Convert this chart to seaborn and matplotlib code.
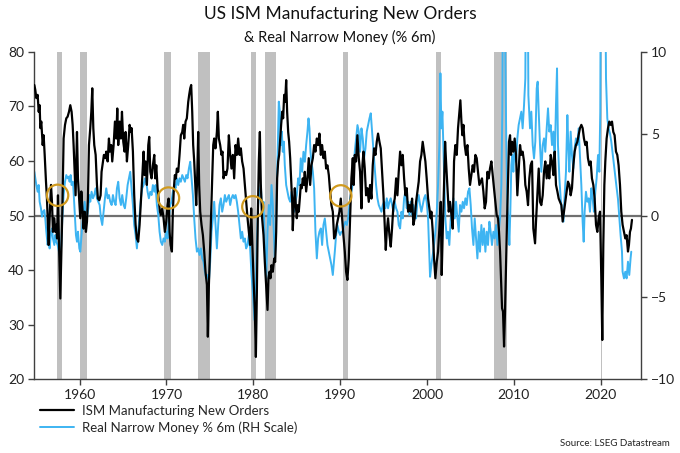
import numpy as np
import pandas as pd
import matplotlib
matplotlib.use("Agg")
import matplotlib.pyplot as plt
from matplotlib.lines import Line2D
import seaborn as sns

# ---------------- data ----------------
ism_year = [
    1954.79, 1954.90, 1955.02, 1955.17, 1955.29, 1955.40, 1955.48, 1955.59, 1955.75, 1955.86,
    1955.98, 1956.13, 1956.24, 1956.44, 1956.55, 1956.71, 1956.82, 1956.93, 1957.09, 1957.20,
    1957.32, 1957.40, 1957.51, 1957.63, 1957.78, 1957.89, 1958.01, 1958.16, 1958.32, 1958.47,
    1958.62, 1958.78, 1958.93, 1959.08, 1959.20, 1959.31, 1959.43, 1959.54, 1959.70, 1959.81,
    1959.93, 1960.08, 1960.20, 1960.35, 1960.46, 1960.58, 1960.73, 1960.85, 1960.96, 1961.08,
    1961.23, 1961.35, 1961.46, 1961.58, 1961.69, 1961.85, 1962.00, 1962.11, 1962.27, 1962.42,
    1962.53, 1962.69, 1962.80, 1962.96, 1963.07, 1963.23, 1963.38, 1963.49, 1963.65, 1963.76,
    1963.92, 1964.07, 1964.22, 1964.34, 1964.45, 1964.61, 1964.76, 1964.88, 1965.03, 1965.18,
    1965.30, 1965.45, 1965.60, 1965.76, 1965.91,
    1965.99, 1966.14, 1966.29, 1966.45, 1966.60, 1966.75, 1966.91, 1967.06, 1967.21, 1967.37,
    1967.48, 1967.60, 1967.75, 1967.91, 1968.02, 1968.14, 1968.29, 1968.44, 1968.60, 1968.71,
    1968.83, 1968.98, 1969.13, 1969.25, 1969.36, 1969.52, 1969.67, 1969.82, 1969.98, 1970.13,
    1970.25, 1970.36, 1970.48, 1970.63, 1970.74, 1970.86, 1970.97, 1971.09, 1971.20, 1971.36,
    1971.51, 1971.66, 1971.82, 1971.93, 1972.05, 1972.20, 1972.35, 1972.51, 1972.62, 1972.74,
    1972.85, 1972.97, 1973.08, 1973.20, 1973.31, 1973.43, 1973.54, 1973.66, 1973.77, 1973.89,
    1974.04, 1974.20, 1974.35, 1974.50, 1974.66, 1974.77, 1974.89, 1975.04, 1975.15, 1975.27,
    1975.39, 1975.50, 1975.65, 1975.81, 1975.92, 1976.04, 1976.19, 1976.34, 1976.46, 1976.57,
    1976.73, 1976.88, 1977.03, 1977.19, 1977.34, 1977.49, 1977.65,
    1977.80, 1977.96, 1978.11, 1978.26, 1978.42, 1978.57, 1978.72, 1978.88, 1979.03, 1979.18,
    1979.34, 1979.49, 1979.64, 1979.76, 1979.87, 1980.03, 1980.18, 1980.30, 1980.41, 1980.53,
    1980.64, 1980.76, 1980.87, 1981.02, 1981.18, 1981.33, 1981.48, 1981.64, 1981.75, 1981.87,
    1981.98, 1982.10, 1982.25, 1982.41, 1982.52, 1982.64, 1982.75, 1982.87, 1982.98, 1983.10,
    1983.21, 1983.33, 1983.44, 1983.56, 1983.67, 1983.79, 1983.90, 1984.02, 1984.13, 1984.25,
    1984.36, 1984.48, 1984.55, 1984.67, 1984.78, 1984.90, 1985.01, 1985.13, 1985.24, 1985.36,
    1985.47, 1985.59, 1985.70, 1985.82, 1985.93, 1986.09, 1986.24, 1986.39, 1986.55, 1986.70,
    1986.86, 1987.01, 1987.16, 1987.32, 1987.47, 1987.62, 1987.78, 1987.93, 1988.08, 1988.24,
    1988.39, 1988.54, 1988.70, 1988.85, 1989.00, 1989.16,
    1989.31, 1989.46, 1989.62, 1989.77, 1989.92, 1990.08, 1990.23, 1990.38, 1990.54, 1990.69,
    1990.84, 1991.00, 1991.15, 1991.30, 1991.46, 1991.57, 1991.69, 1991.84, 1991.99, 1992.15,
    1992.30, 1992.46, 1992.57, 1992.69, 1992.84, 1992.99, 1993.15, 1993.30, 1993.45, 1993.61,
    1993.76, 1993.91, 1994.07, 1994.22, 1994.37, 1994.53, 1994.68, 1994.83, 1994.99, 1995.14,
    1995.26, 1995.37, 1995.52, 1995.68, 1995.83, 1995.98, 1996.14, 1996.29, 1996.45, 1996.60,
    1996.75, 1996.91, 1997.06, 1997.21, 1997.37, 1997.52, 1997.67, 1997.83, 1997.98, 1998.13,
    1998.29, 1998.44, 1998.59, 1998.75, 1998.90, 1999.05, 1999.21, 1999.36, 1999.51, 1999.67,
    1999.82, 1999.97, 2000.13, 2000.28, 2000.43,
    2000.51, 2000.67, 2000.82, 2000.97, 2001.13, 2001.28, 2001.43, 2001.59, 2001.70, 2001.82,
    2001.97, 2002.09, 2002.20, 2002.35, 2002.51, 2002.66, 2002.82, 2002.97, 2003.12, 2003.27,
    2003.43, 2003.58, 2003.74, 2003.85, 2003.97, 2004.08, 2004.20, 2004.35, 2004.50, 2004.66,
    2004.81, 2004.96, 2005.12, 2005.27, 2005.42, 2005.58, 2005.73, 2005.88, 2006.04, 2006.19,
    2006.34, 2006.50, 2006.65, 2006.80, 2006.96, 2007.11, 2007.26, 2007.42, 2007.57, 2007.72,
    2007.88, 2008.03, 2008.19, 2008.30, 2008.42, 2008.53, 2008.65, 2008.76, 2008.88, 2008.99,
    2009.11, 2009.22, 2009.34, 2009.45, 2009.57, 2009.68, 2009.80, 2009.95, 2010.10, 2010.26,
    2010.41, 2010.56, 2010.72, 2010.87, 2011.02, 2011.18, 2011.33, 2011.48, 2011.64, 2011.79,
    2011.94, 2012.10, 2012.25,
    2012.45, 2012.56, 2012.71, 2012.87, 2013.02, 2013.17, 2013.33, 2013.48, 2013.63, 2013.79,
    2013.94, 2014.09, 2014.25, 2014.40, 2014.56, 2014.71, 2014.86, 2015.02, 2015.17, 2015.32,
    2015.48, 2015.63, 2015.78, 2015.94, 2016.09, 2016.24, 2016.40, 2016.55, 2016.70, 2016.86,
    2017.01, 2017.16, 2017.32, 2017.47, 2017.62, 2017.78, 2017.93, 2018.08, 2018.24, 2018.39,
    2018.54, 2018.70, 2018.85, 2019.00, 2019.16, 2019.31, 2019.47, 2019.62, 2019.77, 2019.93,
    2020.08, 2020.19, 2020.31, 2020.43, 2020.54, 2020.69, 2020.85, 2021.00, 2021.15, 2021.31,
    2021.46, 2021.61, 2021.77, 2021.92, 2022.07, 2022.23, 2022.38, 2022.53, 2022.69, 2022.84,
    2022.99, 2023.15, 2023.26, 2023.38, 2023.49, 2023.61,
]
ism_value = [
    73.9, 73.0, 71.5, 72.1, 69.0, 70.2, 66.0, 67.2, 62.9, 64.7,
    61.1, 56.2, 53.1, 44.6, 49.5, 55.6, 52.5, 47.0, 49.5, 47.0,
    48.3, 45.8, 53.7, 44.6, 34.8, 42.1, 50.7, 64.1, 66.6, 67.8,
    68.1, 69.0, 70.2, 69.0, 66.6, 62.9, 58.0, 53.7, 65.3, 56.8,
    53.7, 49.5, 54.4, 50.7, 47.6, 50.7, 47.0, 48.9, 53.1, 62.9,
    66.0, 69.0, 73.3, 66.0, 62.9, 61.1, 55.6, 53.1, 52.8, 53.7,
    58.0, 59.9, 61.1, 60.5, 61.7, 59.9, 64.1, 61.7, 62.9, 59.9,
    62.9, 67.2, 64.1, 69.6, 62.9, 67.2, 64.1, 69.0, 63.5, 61.7,
    65.3, 59.9, 62.9, 66.6, 65.3,
    66.0, 61.7, 53.7, 48.3, 45.8, 45.2, 48.3, 52.5, 56.8, 61.7,
    57.4, 59.9, 55.6, 62.9, 64.4, 58.0, 56.8, 59.2, 61.1, 56.8,
    59.2, 55.0, 52.5, 50.7, 50.1, 51.3, 49.5, 47.0, 48.9, 51.9,
    53.1, 47.0, 44.6, 43.4, 50.7, 55.0, 57.4, 56.8, 58.6, 58.0,
    61.1, 64.7, 65.3, 66.6, 64.1, 67.2, 67.8, 70.8, 72.1, 73.3,
    73.9, 69.0, 62.9, 59.9, 56.2, 51.9, 56.8, 65.3, 55.6, 50.7,
    48.3, 46.4, 43.4, 39.7, 37.3, 27.8, 37.3, 44.6, 50.7, 56.8,
    62.9, 64.1, 62.3, 65.3, 69.0, 64.1, 62.9, 61.1, 61.7, 56.8,
    58.0, 57.4, 58.6, 64.7, 61.1, 58.6, 61.1,
    56.8, 62.9, 61.1, 64.1, 61.1, 62.3, 59.9, 58.6, 55.6, 52.5,
    49.5, 47.0, 44.6, 51.3, 45.8, 38.5, 32.4, 24.1, 35.4, 50.7,
    59.9, 65.3, 55.6, 49.5, 46.4, 41.5, 37.3, 32.7, 38.5, 39.7,
    38.5, 40.9, 39.7, 42.1, 41.5, 47.0, 56.8, 59.9, 61.1, 64.1,
    66.6, 69.0, 67.8, 72.1, 70.8, 74.8, 69.0, 65.3, 63.5, 60.5,
    56.8, 52.5, 47.3, 51.9, 55.0, 51.9, 49.5, 51.9, 50.7, 53.1,
    55.6, 55.0, 56.8, 55.6, 58.0, 54.4, 56.8, 60.5, 55.6, 59.2,
    60.5, 62.9, 61.7, 64.1, 62.9, 65.0, 61.1, 62.9, 60.5, 61.7,
    58.6, 59.2, 57.4, 54.4, 51.9, 50.7,
    45.8, 46.4, 48.3, 49.5, 50.7, 53.1, 49.5, 46.4, 43.4, 39.7,
    38.2, 42.1, 49.5, 56.8, 60.5, 55.6, 61.1, 59.9, 64.7, 60.5,
    58.0, 51.3, 59.2, 61.7, 58.6, 53.7, 55.0, 52.5, 55.6, 53.1,
    59.2, 62.3, 61.1, 63.5, 65.0, 63.5, 62.3, 58.0, 53.7, 48.3,
    43.7, 47.0, 49.5, 46.4, 44.3, 47.6, 51.9, 53.1, 56.8, 53.7,
    58.0, 61.7, 59.2, 61.1, 56.8, 53.7, 55.0, 50.7, 51.9, 50.7,
    53.1, 48.3, 49.5, 52.5, 54.4, 56.2, 59.9, 61.1, 63.5, 61.7,
    59.9, 56.8, 53.1, 51.3, 49.5,
    50.7, 47.0, 42.1, 38.5, 41.5, 43.4, 47.6, 52.5, 39.1, 47.0,
    55.6, 63.5, 59.9, 55.6, 50.7, 52.5, 50.1, 47.6, 59.9, 62.9,
    61.1, 66.0, 69.0, 71.1, 67.2, 64.7, 66.6, 62.9, 61.1, 62.9,
    58.6, 55.6, 57.4, 59.2, 58.0, 61.1, 60.5, 58.0, 55.6, 56.2,
    56.8, 54.4, 51.3, 52.5, 58.0, 56.8, 58.6, 59.9, 57.4, 55.0,
    52.5, 50.1, 49.5, 47.0, 43.4, 38.5, 33.0, 32.4, 26.0, 32.4,
    41.5, 48.9, 56.8, 63.5, 64.7, 61.1, 63.5, 61.7, 64.1, 61.1,
    53.7, 58.0, 62.9, 61.1, 61.7, 59.9, 55.6, 54.4, 51.9, 56.8,
    59.2, 59.9, 47.6,
    44.9, 48.9, 53.7, 58.6, 52.5, 51.9, 53.7, 58.0, 59.9, 56.8,
    59.2, 56.8, 61.1, 59.9, 57.4, 61.7, 55.6, 54.4, 53.1, 52.5,
    51.9, 48.9, 50.7, 52.5, 54.4, 56.2, 55.6, 53.7, 55.0, 59.2,
    61.7, 62.9, 63.5, 64.7, 66.0, 66.6, 66.0, 64.1, 62.9, 63.5,
    60.5, 59.2, 59.9, 56.8, 55.6, 53.1, 48.3, 47.0, 49.5, 50.7,
    38.5, 27.2, 44.6, 55.6, 59.9, 64.1, 66.0, 67.2, 66.6, 67.2,
    65.3, 64.7, 61.7, 61.1, 59.2, 55.6, 50.7, 48.3, 47.0, 45.8,
    46.4, 43.4, 44.6, 47.0, 47.6, 49.2,
]

money_year = [
    1954.79, 1954.90, 1955.02, 1955.17, 1955.29, 1955.40, 1955.55, 1955.67, 1955.78, 1955.94,
    1956.05, 1956.17, 1956.32, 1956.44, 1956.55, 1956.71, 1956.82, 1956.93, 1957.09, 1957.20,
    1957.32, 1957.47, 1957.63, 1957.78, 1957.89, 1958.01, 1958.16, 1958.32, 1958.47, 1958.62,
    1958.74, 1958.85, 1958.97, 1959.08, 1959.24, 1959.35, 1959.47, 1959.58, 1959.70, 1959.81,
    1959.97, 1960.08, 1960.20, 1960.31, 1960.46, 1960.58, 1960.73, 1960.85, 1961.00, 1961.12,
    1961.23, 1961.38, 1961.54, 1961.69, 1961.85, 1962.00, 1962.15, 1962.31, 1962.46, 1962.61,
    1962.77, 1962.92, 1963.07, 1963.23, 1963.38, 1963.53, 1963.69, 1963.84, 1963.99, 1964.15,
    1964.30, 1964.45, 1964.61, 1964.76, 1964.91, 1965.07, 1965.22, 1965.37, 1965.53, 1965.68,
    1965.83,
    1965.99, 1966.14, 1966.29, 1966.45, 1966.60, 1966.75, 1966.91, 1967.06, 1967.21, 1967.37,
    1967.52, 1967.68, 1967.83, 1967.98, 1968.14, 1968.29, 1968.44, 1968.60, 1968.75, 1968.90,
    1969.06, 1969.21, 1969.36, 1969.52, 1969.67, 1969.82, 1969.98, 1970.13, 1970.28, 1970.44,
    1970.59, 1970.74, 1970.90, 1971.05, 1971.20, 1971.36, 1971.51, 1971.66, 1971.82, 1971.97,
    1972.13, 1972.28, 1972.43, 1972.59, 1972.74, 1972.89, 1973.05, 1973.20, 1973.35, 1973.51,
    1973.66, 1973.81, 1973.97, 1974.12, 1974.27, 1974.43, 1974.58, 1974.73, 1974.89, 1975.04,
    1975.19, 1975.35, 1975.50, 1975.65, 1975.81, 1975.96, 1976.11, 1976.27, 1976.42, 1976.57,
    1976.73, 1976.88, 1977.03, 1977.19, 1977.34, 1977.49, 1977.65,
    1977.80, 1977.96, 1978.11, 1978.26, 1978.42, 1978.57, 1978.72, 1978.88, 1979.03, 1979.18,
    1979.34, 1979.49, 1979.64, 1979.80, 1979.95, 1980.14, 1980.26, 1980.41, 1980.56, 1980.72,
    1980.87, 1981.02, 1981.18, 1981.33, 1981.48, 1981.64, 1981.79, 1981.94, 1982.10, 1982.25,
    1982.37, 1982.48, 1982.60, 1982.71, 1982.83, 1982.94, 1983.06, 1983.17, 1983.29, 1983.40,
    1983.52, 1983.63, 1983.79, 1983.94, 1984.09, 1984.25, 1984.40, 1984.55, 1984.71, 1984.86,
    1985.01, 1985.17, 1985.32, 1985.47, 1985.63, 1985.78, 1985.94, 1986.09, 1986.24, 1986.36,
    1986.47, 1986.59, 1986.70, 1986.86, 1987.01, 1987.16, 1987.32, 1987.47, 1987.62, 1987.78,
    1987.93, 1988.08, 1988.24, 1988.39, 1988.54, 1988.70, 1988.85, 1989.00, 1989.16,
    1989.39, 1989.54, 1989.69, 1989.85, 1990.00, 1990.15, 1990.31, 1990.46, 1990.61, 1990.77,
    1990.92, 1991.07, 1991.23, 1991.38, 1991.54, 1991.69, 1991.84, 1992.00, 1992.15, 1992.30,
    1992.46, 1992.61, 1992.76, 1992.92, 1993.07, 1993.22, 1993.38, 1993.53, 1993.68, 1993.84,
    1993.99, 1994.14, 1994.30, 1994.45, 1994.60, 1994.76, 1994.91, 1995.06, 1995.22, 1995.37,
    1995.52, 1995.68, 1995.83, 1995.98, 1996.14, 1996.29, 1996.45, 1996.60, 1996.75, 1996.91,
    1997.06, 1997.21, 1997.37, 1997.52, 1997.67, 1997.83, 1997.98, 1998.13, 1998.29, 1998.44,
    1998.59, 1998.75, 1998.90, 1999.05, 1999.21, 1999.36, 1999.51, 1999.67, 1999.82, 1999.97,
    2000.13, 2000.24, 2000.36, 2000.51, 2000.66,
    2000.82, 2000.97, 2001.13, 2001.28, 2001.43, 2001.55, 2001.66, 2001.78, 2001.89, 2002.01,
    2002.12, 2002.28, 2002.43, 2002.58, 2002.74, 2002.89, 2003.05, 2003.20, 2003.35, 2003.51,
    2003.66, 2003.81, 2003.97, 2004.12, 2004.27, 2004.43, 2004.58, 2004.73, 2004.89, 2005.04,
    2005.19, 2005.35, 2005.50, 2005.65, 2005.81, 2005.96, 2006.11, 2006.27, 2006.42, 2006.57,
    2006.73, 2006.88, 2007.03, 2007.19, 2007.34, 2007.49, 2007.65, 2007.80, 2007.96, 2008.11,
    2008.26, 2008.42, 2008.57, 2008.68, 2008.80, 2008.91, 2009.03, 2009.14, 2009.26, 2009.37,
    2009.49, 2009.60, 2009.72, 2009.83, 2009.95, 2010.10, 2010.26, 2010.41, 2010.56, 2010.72,
    2010.87, 2011.02, 2011.18, 2011.33, 2011.45, 2011.56, 2011.68, 2011.87,
    2012.02, 2012.18, 2012.33, 2012.48, 2012.64, 2012.75, 2012.87, 2013.02, 2013.17, 2013.33,
    2013.48, 2013.63, 2013.79, 2013.94, 2014.09, 2014.25, 2014.40, 2014.56, 2014.71, 2014.86,
    2014.98, 2015.09, 2015.25, 2015.40, 2015.55, 2015.71, 2015.86, 2016.01, 2016.17, 2016.28,
    2016.40, 2016.55, 2016.70, 2016.86, 2017.01, 2017.16, 2017.32, 2017.47, 2017.62, 2017.78,
    2017.93, 2018.05, 2018.16, 2018.31, 2018.47, 2018.62, 2018.77, 2018.93, 2019.08, 2019.23,
    2019.39, 2019.54, 2019.70, 2019.85, 2019.96, 2020.08, 2020.19, 2020.31, 2020.46, 2020.62,
    2020.77, 2020.92, 2021.08, 2021.23, 2021.38, 2021.54, 2021.69, 2021.84, 2022.00, 2022.15,
    2022.30, 2022.46, 2022.53, 2022.69, 2022.84, 2022.99, 2023.15, 2023.30, 2023.45, 2023.53,
]
money_value = [
    2.67, 2.27, 1.86, 1.45, 1.86, 0.84, 0.44, -0.07, 0.23, 0.33,
    -0.18, -0.99, -1.80, -1.40, -2.01, -0.99, -0.79, -1.40, -1.80, -1.19,
    -1.60, -1.80, -2.21, -2.62, -1.80, -0.18, 1.25, 2.06, 2.47, 2.27,
    2.37, 2.06, 2.47, 1.86, 2.06, 1.05, -0.18, -1.19, -1.60, -0.99,
    -2.01, -2.21, -1.40, -0.58, 0.23, 0.84, 0.23, -0.18, 0.44, 1.25,
    0.84, 1.45, 1.05, 1.25, 1.66, 1.05, 0.84, 0.64, -0.18, -0.58,
    0.23, 1.05, 1.66, 1.05, 1.25, 0.84, 0.64, 1.25, 0.84, 0.64,
    1.66, 2.06, 1.05, 0.64, 1.25, 0.64, 0.44, 1.05, 1.86, 2.27,
    2.67,
    1.66, 0.64, -0.58, -1.19, -2.01, -0.99, 0.03, 1.05, 1.66, 1.86,
    2.27, 2.06, 1.45, 1.05, 1.45, 1.25, 1.86, 1.45, 1.86, 0.64,
    0.03, -0.99, -1.60, -1.80, -1.40, -1.60, -0.99, -1.40, -0.18, 0.64,
    0.84, 1.45, 1.86, 1.66, 2.27, 1.86, 2.27, 2.06, 2.47, 2.27,
    2.06, 2.47, 2.27, 2.88, 3.28, 2.27, 1.25, -0.18, -1.40, -2.21,
    -2.01, -2.41, -2.01, -2.62, -2.82, -3.43, -3.84, -3.63, -4.04, -2.82,
    -0.99, -0.18, 0.84, -0.58, -2.01, -0.58, 0.64, 1.05, 0.23, 0.64,
    1.25, 0.84, 1.05, 1.25, 0.64, 1.05, 1.25,
    1.05, 1.25, 0.84, 0.23, -0.58, -1.40, -0.99, -1.60, -1.40, -2.01,
    -1.80, -1.19, -2.01, -3.63, -4.65, -6.38, -5.06, -1.80, 0.64, 1.45,
    1.86, 0.23, 0.84, -1.80, -4.04, -0.99, 0.64, -0.58, 1.86, 0.64,
    -0.99, -2.62, -1.40, 1.86, 4.30, 6.95, 6.34, 4.30, 5.12, 3.89,
    4.51, 3.08, 1.86, 1.45, 1.05, 0.84, 1.45, 1.05, 0.23, 0.84,
    1.25, 2.27, 1.86, 3.49, 2.67, 3.89, 3.28, 4.30, 5.12, 5.93,
    5.32, 3.89, 3.28, 2.67, 1.66, -0.99, -2.62, -1.40, -0.99, -0.79,
    -1.80, -0.58, -0.18, -0.99, -1.80, -2.21, -2.62, -3.02, -3.63,
    -2.21, -1.19, -0.58, -0.99, -1.19, -0.99, -0.99, -0.58, -0.38, -0.58,
    -0.18, 0.64, 1.25, 1.66, 2.67, 3.89, 4.71, 5.52, 5.12, 3.89,
    5.32, 4.71, 3.49, 4.10, 5.12, 5.52, 5.93, 6.24, 5.12, 3.89,
    2.88, 1.86, 1.05, 0.64, 0.44, 0.23, 0.64, 0.84, 0.44, 1.05,
    0.44, 0.84, 1.05, 0.64, 0.23, 0.84, 0.44, 0.23, -0.58, -0.79,
    0.23, -0.18, 1.05, 1.45, 0.44, 0.84, 0.03, 0.84, 0.03, 0.64,
    0.23, -0.18, 0.84, 1.25, 0.64, 0.23, 0.64, 1.05, 1.25, 0.84,
    -0.18, -1.80, -3.74, -3.02, -2.41,
    -1.80, -0.99, 0.23, 1.86, 4.30, 8.68, 5.32, 6.34, 4.30, 2.27,
    -0.18, -1.40, -0.99, -1.80, -0.18, 0.23, 1.05, -0.18, 0.84, -0.18,
    -0.99, 0.64, 0.23, 0.84, 0.44, 1.05, 0.64, 1.45, 1.66, 0.64,
    -0.79, -1.80, -0.18, -1.40, -2.62, -0.99, -2.21, -0.58, -1.80, -0.79,
    -2.21, -0.99, -1.80, -0.38, -0.99, -1.80, -0.99, -1.40, -0.58, -1.80,
    -0.99, -0.18, 1.86, 6.34, 20.0, 20.0, 9.39, 4.30, 0.64, -0.18,
    -1.80, 0.23, 3.08, 3.69, 2.67, 4.30, 3.28, 4.71, 5.52, 5.93,
    6.34, 5.32, 6.74, 8.37, 20.0, 20.0, 7.35, 5.32,
    6.34, 4.30, 3.49, 4.51, 7.76, 8.17, 6.34, 4.30, 2.67, 4.30,
    4.71, 3.89, 5.32, 6.54, 5.12, 5.52, 4.30, 5.12, 3.28, 6.74,
    8.98, 4.30, 2.27, 1.05, 0.23, -0.38, 1.25, 2.67, 6.13, 4.30,
    2.67, 5.12, 3.69, 2.88, 4.10, 4.71, 4.30, 5.32, 3.69, 1.86,
    -0.38, -1.60, 0.23, 1.45, 0.84, 1.05, 0.23, 1.66, 1.05, 0.23,
    1.45, 2.27, 3.69, 2.67, 6.34, 25.0, 30.0, 30.0, 20.0, 8.37,
    5.93, 5.32, 5.00, 4.50, 3.80, 3.10, 2.40, 1.70, 1.00, -0.10,
    -1.20, -2.20, -3.43, -3.84, -3.43, -3.84, -2.82, -3.63, -2.62, -2.21,
]

recession_start = [1957.40, 1960.00, 1969.71, 1973.66, 1979.79, 1981.37, 1990.31, 2001.05, 2007.76, 2020.00]
recession_end = [1958.01, 1960.85, 1970.55, 1975.00, 1980.30, 1982.63, 1990.96, 2001.62, 2009.22, 2020.12]

circle_year = [1957.47, 1970.24, 1979.95, 1990.08]
circle_value = [53.7, 53.2, 51.6, 53.6]

year_ticks = [1960, 1970, 1980, 1990, 2000, 2010, 2020]
left_ticks = [20, 30, 40, 50, 60, 70, 80]
right_ticks = [-10, -5, 0, 5, 10]

title = "US ISM Manufacturing New Orders"
subtitle = "& Real Narrow Money (% 6m)"
label_ism = "ISM Manufacturing New Orders"
label_money = "Real Narrow Money % 6m (RH Scale)"
source = "Source: LSEG Datastream"

# ---------------- plotting ----------------
sns.set_style("white")
plt.rcParams["font.family"] = ["Lato", "DejaVu Sans"]

BLACK = "#000000"
BLUE = "#3db4f2"
GREY = "#c0c0c0"
GOLD = "#d09a1e"
AXC = "#404040"

df_ism = pd.DataFrame({"year": ism_year, "value": ism_value})
df_money = pd.DataFrame({"year": money_year, "value": money_value})

fig = plt.figure(figsize=(6.8, 4.53), dpi=100)
ax = fig.add_axes([34 / 680, 1 - 379.3 / 453, (641 - 34) / 680, (379.3 - 51.7) / 453])
ax2 = ax.twinx()
# left axes (black line) drawn above the right axes (bands, blue line)
ax.set_zorder(ax2.get_zorder() + 1)
ax.patch.set_visible(False)

for s, e in zip(recession_start, recession_end):
    ax2.axvspan(s, e, color=GREY, lw=0, zorder=0)
ax2.axhline(0, color="#707070", lw=1.6, zorder=1)

sns.lineplot(data=df_money, x="year", y="value", ax=ax2, color=BLUE, lw=1.4,
             estimator=None, legend=False, zorder=2)
sns.lineplot(data=df_ism, x="year", y="value", ax=ax, color=BLACK, lw=1.6,
             estimator=None, legend=False, zorder=3)
ax.scatter(circle_year, circle_value, s=235, facecolors="none", edgecolors=GOLD,
           linewidths=1.6, zorder=5)

ax.set_xlim(1954.75, 2024.65)
ax2.set_xlim(1954.75, 2024.65)
ax.set_ylim(20, 80)
ax2.set_ylim(-10, 10)
ax.set_xticks(year_ticks)
ax.set_yticks(left_ticks)
ax2.set_yticks(right_ticks)
ax.set_xlabel("")
ax.set_ylabel("")
ax2.set_xlabel("")
ax2.set_ylabel("")

for a in (ax, ax2):
    for sp in a.spines.values():
        sp.set_visible(False)
ax.spines["left"].set_visible(True)
ax.spines["bottom"].set_visible(True)
ax2.spines["right"].set_visible(True)
for sp in (ax.spines["left"], ax.spines["bottom"], ax2.spines["right"]):
    sp.set_color(AXC)
    sp.set_linewidth(1.0)

ax.tick_params(axis="both", direction="out", length=4, width=1, color=AXC,
               labelsize=10, labelcolor="#222222", pad=3)
ax.tick_params(axis="y", left=True, right=False)
ax.tick_params(axis="x", bottom=True, top=False)
ax2.tick_params(axis="y", direction="out", length=4, width=1, color=AXC,
                labelsize=10, labelcolor="#222222", right=True, left=False, pad=3)

fig.text(0.5, 1 - 14 / 453, title, ha="center", va="center", fontsize=12.5, color="#111111")
fig.text(0.5, 1 - 37 / 453, subtitle, ha="center", va="center", fontsize=10.5, color="#111111")

handles = [Line2D([], [], color=BLACK, lw=1.6), Line2D([], [], color=BLUE, lw=1.4)]
fig.legend(handles, [label_ism, label_money], loc="upper left",
           bbox_to_anchor=(40 / 680, 1 - 405 / 453), frameon=False, fontsize=9.5,
           handlelength=2.6, handletextpad=0.6, labelspacing=0.3, borderpad=0,
           borderaxespad=0)
fig.text(670 / 680, 1 - 443 / 453, source, ha="right", va="center", fontsize=7, color="#222222")

fig.savefig("out.png", dpi=100)
